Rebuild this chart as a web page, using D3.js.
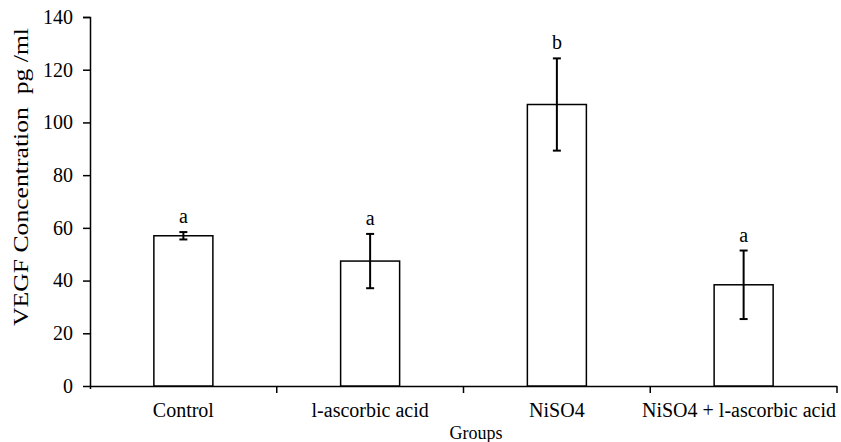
<!DOCTYPE html>
<html>
<head>
<meta charset="utf-8">
<script src="https://cdn.jsdelivr.net/npm/d3@7"></script>
<style>
  body { margin: 0; background: #fff; }
</style>
</head>
<body>
<div id="myPlot"></div>
<script>
// chart data
var groups = ["Control", "l-ascorbic acid", "NiSO4", "NiSO4 + l-ascorbic acid"];
var means = [57.0, 47.4, 106.8, 38.4];
var errors = [1.4, 10.3, 17.5, 13.0];
var letters = ["a", "a", "b", "a"];
var yTicks = [0, 20, 40, 60, 80, 100, 120, 140];

var serif = "'Liberation Serif', 'Times New Roman', serif";

// SVG area
var svgWidth = 841;
var svgHeight = 442;

var margin = {
    top: 17,
    right: 4,
    bottom: 56,
    left: 90
};

var innerWidth = svgWidth - margin.left - margin.right;
var innerHeight = svgHeight - margin.top - margin.bottom;

var svg = d3
    .select("#myPlot")
    .append("svg")
    .attr("width", svgWidth)
    .attr("height", svgHeight);

var g = svg.append("g")
    .attr("transform", `translate(${margin.left}, ${margin.top})`);

// scales
var xScale = d3.scaleBand()
    .domain(groups)
    .range([0, innerWidth])
    .padding(0);

var yScale = d3.scaleLinear()
    .domain([0, 140])
    .range([innerHeight, 0]);

var barWidth = xScale.bandwidth() * 0.316;

// y axis
var yAxis = d3.axisLeft(yScale)
    .tickValues(yTicks)
    .tickSize(7)
    .tickPadding(10);

var yG = g.append("g").call(yAxis);
yG.selectAll("text")
    .style("font-family", serif)
    .style("font-size", "20px")
    .attr("fill", "#000");
yG.select(".domain").attr("d", `M-7,0.5H0.5V${innerHeight + 3}`).attr("stroke-width", 1.5);
yG.selectAll(".tick line").attr("stroke-width", 1.5);

// x axis: labels centred under each band, tick marks at band edges
var xAxis = d3.axisBottom(xScale)
    .tickSize(0)
    .tickPadding(17);

var xG = g.append("g")
    .attr("transform", `translate(0, ${innerHeight})`)
    .call(xAxis);
xG.selectAll("text")
    .style("font-family", serif)
    .style("font-size", "20px")
    .attr("fill", "#000");
xG.select(".domain").attr("d", `M0,0.5H${innerWidth}`).attr("stroke-width", 1.5);

// last label is kept inside the frame
xG.selectAll(".tick")
    .filter(d => d == groups[groups.length - 1])
    .select("text")
    .attr("text-anchor", "end")
    .attr("x", xScale.bandwidth() / 2 - 1);

xG.selectAll(".edge")
    .data(groups)
    .enter().append("line")
    .attr("class", "edge")
    .attr("x1", d => xScale(d) + xScale.bandwidth())
    .attr("x2", d => xScale(d) + xScale.bandwidth())
    .attr("y1", 0)
    .attr("y2", 7)
    .attr("stroke", "#000")
    .attr("stroke-width", 1.5);

// bars
g.selectAll(".bar")
    .data(groups)
    .enter().append("rect")
    .attr("class", "bar")
    .attr("x", d => xScale(d) + (xScale.bandwidth() - barWidth) / 2)
    .attr("y", (d, i) => yScale(means[i]))
    .attr("width", barWidth)
    .attr("height", (d, i) => innerHeight - yScale(means[i]))
    .attr("fill", "#fff")
    .attr("stroke", "#000")
    .attr("stroke-width", 1.5);

// error bars
var cx = d => xScale(d) + xScale.bandwidth() / 2;
var errG = g.append("g")
    .attr("stroke", "#000")
    .attr("stroke-width", 2);

errG.selectAll(".stem")
    .data(groups)
    .enter().append("line")
    .attr("x1", cx)
    .attr("x2", cx)
    .attr("y1", (d, i) => yScale(means[i] + errors[i]))
    .attr("y2", (d, i) => yScale(means[i] - errors[i]));

[1, -1].forEach(function (sign) {
    errG.selectAll(".cap" + sign)
        .data(groups)
        .enter().append("line")
        .attr("x1", d => cx(d) - 4)
        .attr("x2", d => cx(d) + 4)
        .attr("y1", (d, i) => yScale(means[i] + sign * errors[i]))
        .attr("y2", (d, i) => yScale(means[i] + sign * errors[i]));
});

// significance letters
g.selectAll(".letter")
    .data(groups)
    .enter().append("text")
    .attr("class", "letter")
    .attr("x", cx)
    .attr("y", (d, i) => yScale(means[i] + errors[i]) - 9)
    .attr("text-anchor", "middle")
    .style("font-family", serif)
    .style("font-size", "20px")
    .text((d, i) => letters[i]);

// axis titles (y title is stretched along its length as in the original)
svg.append("text")
    .attr("text-anchor", "middle")
    .attr("transform", "translate(28, 177)rotate(-90)")
    .attr("textLength", 298)
    .attr("lengthAdjust", "spacingAndGlyphs")
    .style("font-family", serif)
    .style("font-size", "21px")
    .style("white-space", "pre")
    .text("VEGF Concentration  pg /ml");

svg.append("text")
    .attr("text-anchor", "middle")
    .attr("x", 476)
    .attr("y", 439)
    .style("font-family", serif)
    .style("font-size", "18px")
    .text("Groups");
</script>
</body>
</html>
